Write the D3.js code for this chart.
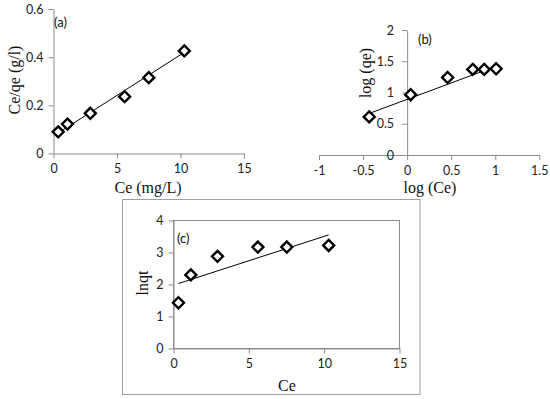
<!DOCTYPE html>
<html><head><meta charset="utf-8">
<script src="https://cdn.jsdelivr.net/npm/d3@7"></script>
<style>body{margin:0;background:#fff}svg{display:block}</style>
</head><body>
<svg id="c" width="550" height="399"></svg>
<script>
// Panel (a): Langmuir
const ceA = [0.37, 1.1, 2.9, 5.6, 7.5, 10.3];
const ceqeA = [0.09, 0.122, 0.167, 0.236, 0.315, 0.426];
const trendAx = [0.37, 10.3];
const trendAy = [0.085, 0.42];
const xTicksA = [0, 5, 10, 15];
const yTicksA = [0, 0.2, 0.4, 0.6];
// Panel (b): Freundlich
const logCe = [-0.43, 0.04, 0.46, 0.745, 0.875, 1.01];
const logQe = [0.61, 0.965, 1.24, 1.37, 1.37, 1.38];
const trendBx = [-0.43, 1.01];
const trendBy = [0.665, 1.42];
const xTicksB = [-1, -0.5, 0, 0.5, 1, 1.5];
const yTicksB = [0, 0.5, 1, 1.5, 2];
// Panel (c)
const ceC = [0.33, 1.15, 2.92, 5.6, 7.52, 10.3];
const lnqt = [1.43, 2.3, 2.88, 3.17, 3.17, 3.22];
const trendCx = [0.33, 10.3];
const trendCy = [2.03, 3.55];
const xTicksC = [0, 5, 10, 15];
const yTicksC = [0, 1, 2, 3, 4];

const svg = d3.select("#c");
const AX = "#8c8c8c";
const tickFont = "Lato, 'Open Sans', sans-serif";
const titleFont = "'Liberation Serif', 'Times New Roman', serif";
const fmt = d => String(d);

function panel(o) {
  const g = svg.append("g");
  const x = d3.scaleLinear().domain(o.xd).range(o.xr);
  const y = d3.scaleLinear().domain(o.yd).range(o.yr);
  const x0 = x(o.yAxisAt), y0 = y(0);
  if (o.box) {
    g.append("rect").attr("x", o.xr[0]).attr("y", o.yr[1])
      .attr("width", o.xr[1] - o.xr[0]).attr("height", o.yr[0] - o.yr[1])
      .attr("fill", "none").attr("stroke", AX).attr("stroke-width", 1);
  }
  // x axis
  const xa = g.append("g").attr("transform", `translate(0,${y0})`)
    .call(d3.axisBottom(x).tickValues(o.xt).tickSize(5).tickSizeOuter(0).tickFormat(fmt));
  xa.select(".domain").attr("stroke", AX);
  xa.selectAll(".tick line").attr("stroke", AX);
  xa.selectAll("text").attr("font-family", tickFont).attr("font-size", 12.5).attr("fill", "#222")
    .attr("dy", "0.71em").attr("y", o.xLabOff);
  // y axis
  const ya = g.append("g").attr("transform", `translate(${x0},0)`)
    .call(d3.axisLeft(y).tickValues(o.yt).tickSize(5).tickSizeOuter(0).tickFormat(fmt));
  ya.select(".domain").attr("stroke", AX);
  ya.selectAll(".tick line").attr("stroke", AX);
  ya.selectAll("text").attr("font-family", tickFont).attr("font-size", 12.5).attr("fill", "#222")
    .attr("x", -o.yLabOff);
  // trend line
  g.append("line")
    .attr("x1", x(o.tx[0])).attr("y1", y(o.ty[0]))
    .attr("x2", x(o.tx[1])).attr("y2", y(o.ty[1]))
    .attr("stroke", "#000").attr("stroke-width", 1);
  // points
  g.selectAll("path.pt").data(o.xs).join("path").attr("class", "pt")
    .attr("transform", (d, i) => `translate(${x(d)},${y(o.ys[i])})`)
    .attr("d", "M0,-5.5L5.5,0L0,5.5L-5.5,0Z")
    .attr("fill", "#fff").attr("stroke", "#000").attr("stroke-width", 2.4);
  // titles
  g.append("text").attr("x", o.xTitle[0]).attr("y", o.xTitle[1]).attr("text-anchor", "middle")
    .attr("font-family", titleFont).attr("font-size", 16).attr("fill", "#111").text(o.xLabel);
  g.append("text").attr("transform", `translate(${o.yTitle[0]},${o.yTitle[1]}) rotate(-90)`)
    .attr("text-anchor", "middle").attr("font-family", titleFont).attr("font-size", 16)
    .attr("fill", "#111").text(o.yLabel);
  g.append("text").attr("x", o.tag[0]).attr("y", o.tag[1]).attr("font-family", tickFont)
    .attr("font-size", 13).attr("fill", "#111").text(o.tagText);
}

// outer frame of panel (c)
svg.append("rect").attr("x", 122.5).attr("y", 199.5).attr("width", 297.5).attr("height", 195)
  .attr("fill", "none").attr("stroke", "#a0a0a0").attr("stroke-width", 1);

panel({xd: [0, 15], xr: [53.5, 244], yd: [0, 0.6], yr: [153.5, 9], yAxisAt: 0,
  xt: xTicksA, yt: yTicksA, xs: ceA, ys: ceqeA, tx: trendAx, ty: trendAy,
  xLabOff: 11, yLabOff: 10, xLabel: "Ce (mg/L)", yLabel: "Ce/qe (g/l)",
  xTitle: [148, 193], yTitle: [20, 80], tag: [54, 27], tagText: "(a)"});

panel({xd: [-1, 1.5], xr: [319, 539.3], yd: [0, 2], yr: [155, 30], yAxisAt: 0,
  xt: xTicksB, yt: yTicksB, xs: logCe, ys: logQe, tx: trendBx, ty: trendBy,
  xLabOff: 11, yLabOff: 13, xLabel: "log (Ce)", yLabel: "log (qe)",
  xTitle: [430, 193], yTitle: [371, 73], tag: [418, 44], tagText: "(b)"});

panel({xd: [0, 15], xr: [173.5, 399.5], yd: [0, 4], yr: [348.5, 220.5], yAxisAt: 0, box: true,
  xt: xTicksC, yt: yTicksC, xs: ceC, ys: lnqt, tx: trendCx, ty: trendCy,
  xLabOff: 11, yLabOff: 10, xLabel: "Ce", yLabel: "lnqt",
  xTitle: [287, 391], yTitle: [148, 283], tag: [177, 243], tagText: "(c)"});
</script>
</body></html>
